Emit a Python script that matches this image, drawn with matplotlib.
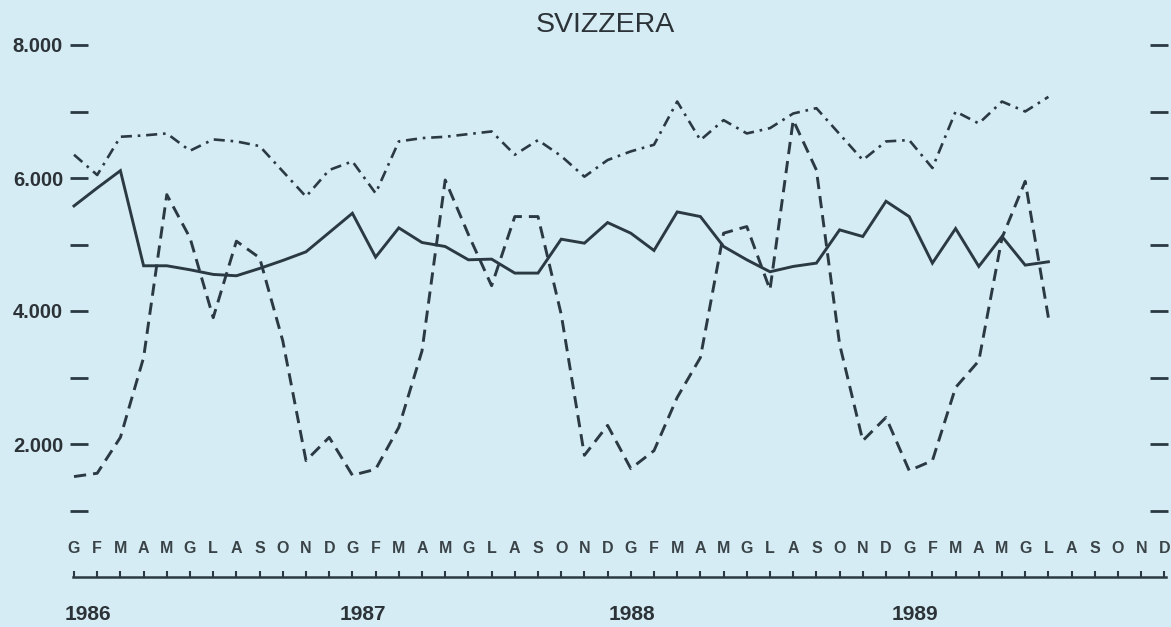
import matplotlib
matplotlib.use("Agg")
import matplotlib.pyplot as plt
import matplotlib.transforms as mtransforms
import numpy as np

# ---------------- data ----------------
month_labels = ['G', 'F', 'M', 'A', 'M', 'G', 'L', 'A', 'S', 'O', 'N', 'D'] * 4
year_labels = ['1986', '1987', '1988', '1989']
title = 'SVIZZERA'

y_ticks_major = [2000, 4000, 6000, 8000]
y_tick_labels = ['2.000', '4.000', '6.000', '8.000']
y_ticks_all = [1000, 2000, 3000, 4000, 5000, 6000, 7000, 8000]

series_solid = [5580, 5850, 6110, 4680, 4680, 4620, 4550, 4530, 4640, 4760,
                4890, 5180, 5470, 4810, 5250, 5030, 4970, 4770, 4780, 4570,
                4570, 5080, 5020, 5330, 5170, 4910, 5490, 5420, 4970, 4770,
                4590, 4670, 4720, 5220, 5120, 5650, 5420, 4720, 5240, 4670,
                5120, 4690, 4740]

series_dashed = [1510, 1560, 2100, 3300, 5750, 5100, 3900, 5050, 4800, 3550,
                 1750, 2100, 1530, 1620, 2250, 3400, 5970, 5150, 4380, 5420,
                 5420, 3950, 1830, 2280, 1630, 1900, 2700, 3300, 5170, 5270,
                 4320, 6870, 6120, 3500, 2050, 2400, 1600, 1750, 2850, 3250,
                 5100, 5950, 3900]

series_dashdot = [6350, 6045, 6620, 6640, 6670, 6410, 6580, 6550, 6480, 6100,
                  5720, 6120, 6250, 5770, 6550, 6600, 6620, 6660, 6700, 6350,
                  6570, 6330, 6020, 6270, 6400, 6500, 7150, 6570, 6870, 6670,
                  6750, 6970, 7050, 6660, 6270, 6550, 6570, 6150, 7000, 6820,
                  7150, 7000, 7220]

# ---------------- style ----------------
BG = '#d6ecf4'
INK = '#2b3a42'
TXT = '#2c3338'

W, H = 1171, 627
fig = plt.figure(figsize=(W / 100, H / 100), dpi=100, facecolor=BG)

# axes placed in pixel geometry
ax_left, ax_right, ax_top, ax_bottom = 70, 1168, 45, 577
ax = fig.add_axes([ax_left / W, (H - ax_bottom) / H,
                   (ax_right - ax_left) / W, (ax_bottom - ax_top) / H])
ax.set_facecolor(BG)

n_months = len(month_labels)
x0_px, step_px = 74.0, 23.2
ax.set_xlim((ax_left - x0_px) / step_px, (ax_right - x0_px) / step_px)
ax.set_ylim(0, 8000)

x = np.arange(len(series_solid))
ax.plot(x, series_solid, color=INK, lw=2.1, solid_joinstyle='miter', zorder=3)
ax.plot(x, series_dashed, color=INK, lw=2.1, dashes=(4.2, 2.4), zorder=3)
ax.plot(x, series_dashdot, color=INK, lw=1.9, dashes=(4.2, 2.2, 1.0, 2.2), zorder=3)

# spines
for s in ['top', 'left', 'right']:
    ax.spines[s].set_visible(False)
ax.spines['bottom'].set_bounds(-0.05, n_months - 1 + 0.05)
ax.spines['bottom'].set_color(INK)
ax.spines['bottom'].set_linewidth(1.8)

# x ticks: small ticks pointing upward
ax.set_xticks(np.arange(n_months))
ax.set_xticklabels([])
ax.tick_params(axis='x', direction='in', length=4, width=1.5, color=INK)

# left y ticks (all), labels for major
ax.set_yticks(y_ticks_all)
ax.set_yticklabels([y_tick_labels[y_ticks_major.index(v)] if v in y_ticks_major else ''
                    for v in y_ticks_all])
ax.tick_params(axis='y', which='both', direction='in', length=13, width=2.0,
               color=INK, labelcolor=TXT, labelsize=14.5, pad=5,
               left=True, right=True, labelleft=True, labelright=False)
for lab in ax.get_yticklabels():
    lab.set_fontweight('bold')
    lab.set_fontfamily('Liberation Sans')

# month letters above the axis
trans = mtransforms.blended_transform_factory(ax.transData, ax.transAxes)
for i, m in enumerate(month_labels):
    ax.text(i, 0.0545, m, transform=trans, ha='center', va='center',
            fontsize=11.5, fontweight='bold', color='#3a4448',
            family='Liberation Sans')

# year labels below the axis
year_offsets = [0.6, 12.45, 24.05, 36.25]
for k, yl in enumerate(year_labels):
    ax.text(year_offsets[k], -0.071, yl, transform=trans, ha='center', va='center',
            fontsize=15, fontweight='bold', color=TXT, family='Liberation Sans',
            clip_on=False)

fig.text(605 / W, 1 - 25 / H, title, ha='center', va='center', fontsize=20.5,
         color=TXT, family='Liberation Sans')

fig.savefig('out.png', dpi=100, facecolor=BG)
